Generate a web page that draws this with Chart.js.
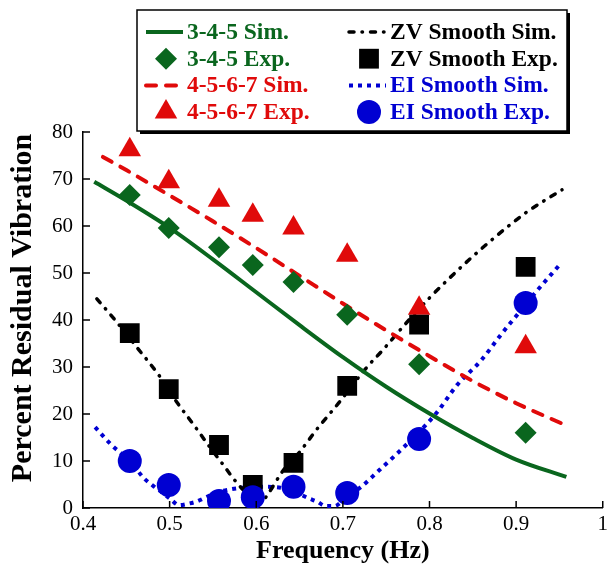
<!DOCTYPE html>
<html>
<head>
<meta charset="utf-8">
<script src="https://cdn.jsdelivr.net/npm/chart.js@4.4.0/dist/chart.umd.min.js"></script>
<style>
  html, body { margin: 0; padding: 0; background: #fff; }
  #wrap { width: 612px; height: 571px; }
</style>
</head>
<body>
<div id="wrap"><canvas id="vibChart" width="612" height="571"></canvas></div>
<script>
// experiment frequencies (same for every shaper)
var expFreq = [0.454, 0.499, 0.557, 0.596, 0.643, 0.705, 0.788, 0.911];

var exp345  = [66.6, 59.6, 55.5, 51.7, 48.1, 41.1, 30.6, 16.0];
var exp4567 = [76.2, 69.4, 65.5, 62.3, 59.6, 53.8, 42.5, 34.3];
var expZV   = [37.2, 25.3, 13.4, 4.9, 9.6, 26.0, 39.0, 51.3];
var expEI   = [10.0, 4.9, 1.5, 2.3, 4.5, 3.2, 14.7, 43.6];

// simulated curves
var simFreq345 = [0.413, 0.45, 0.5, 0.55, 0.6, 0.65, 0.7, 0.75, 0.8, 0.85, 0.9, 0.958];
var sim345     = [69.4, 65.4, 59.6, 52.9, 45.9, 38.9, 32.1, 25.8, 20.1, 14.9, 10.3, 6.6];

var simFreq4567 = [0.423, 0.45, 0.5, 0.55, 0.6, 0.65, 0.7, 0.75, 0.8, 0.85, 0.9, 0.955];
var sim4567     = [74.7, 71.9, 66.5, 61.0, 55.3, 49.4, 43.5, 37.8, 32.3, 27.0, 22.3, 17.8];

var simFreqZV = [0.416, 0.437, 0.463, 0.489, 0.508, 0.529, 0.545, 0.561, 0.577, 0.592, 0.604, 0.615,
                 0.63, 0.65, 0.671, 0.695, 0.727, 0.746, 0.769, 0.8, 0.823, 0.848, 0.869, 0.89, 0.911, 0.93, 0.953];
var simZV     = [44.5, 40.0, 34.0, 27.9, 22.6, 17.4, 13.3, 9.4, 5.5, 2.6, 1.0, 3.4,
                 7.7, 11.9, 17.0, 22.3, 29.8, 33.6, 38.5, 44.7, 48.9, 53.2, 56.6, 59.8, 62.8, 65.1, 67.7];

var simFreqEI = [0.414, 0.433, 0.455, 0.47, 0.481, 0.492, 0.501, 0.511, 0.521, 0.53, 0.54, 0.555, 0.571,
                 0.59, 0.612, 0.628, 0.645, 0.66, 0.671, 0.68, 0.69, 0.705, 0.721, 0.74, 0.761, 0.786,
                 0.808, 0.832, 0.86, 0.883, 0.899, 0.924, 0.95];
var simEI     = [17.2, 13.4, 9.8, 6.4, 4.7, 3.2, 1.9, 0.6, 0.9, 1.3, 2.1, 3.3, 4.0,
                 4.4, 4.5, 4.3, 3.4, 2.1, 1.3, 0.4, 0.4, 2.5, 4.5, 7.7, 11.3, 15.8,
                 20.2, 26.2, 31.5, 37.0, 40.6, 46.2, 51.7];

var GREEN = '#0a661e', RED = '#e00a0a', BLACK = '#000000', BLUE = '#0000d2';
var SERIF = "'Liberation Serif', 'Times New Roman', serif";

function pts(xs, ys) {
  return xs.map(function (x, i) { return { x: x, y: ys[i] }; });
}

function simSet(label, xs, ys, color, width, dash, cap) {
  return {
    label: label, data: pts(xs, ys), showLine: true, pointRadius: 0,
    borderColor: color, backgroundColor: color, borderWidth: width,
    borderDash: dash, borderCapStyle: cap || 'butt',
    cubicInterpolationMode: 'monotone', order: 10
  };
}

function expSet(label, ys, color, style, radius, order) {
  return {
    label: label, data: pts(expFreq, ys), showLine: false,
    pointStyle: style, pointRadius: radius, pointHoverRadius: radius,
    pointBorderWidth: 0, borderColor: color, backgroundColor: color, order: order
  };
}

// draws one marker shape for the legend box
function drawMarker(ctx, style, x, y, r) {
  ctx.beginPath();
  if (style === 'circle') {
    ctx.arc(x, y, r, 0, Math.PI * 2);
  } else if (style === 'rect') {
    var s = r * Math.SQRT1_2;
    ctx.rect(x - s, y - s, 2 * s, 2 * s);
  } else if (style === 'rectRot') {
    ctx.moveTo(x - r, y); ctx.lineTo(x, y - r); ctx.lineTo(x + r, y); ctx.lineTo(x, y + r);
  } else if (style === 'triangle') {
    ctx.moveTo(x, y - r);
    ctx.lineTo(x + r * 0.866, y + r * 0.5);
    ctx.lineTo(x - r * 0.866, y + r * 0.5);
  }
  ctx.closePath();
  ctx.fill();
}

var boxedLegend = {
  id: 'boxedLegend',
  afterDraw: function (chart) {
    var ctx = chart.ctx;
    var xs = chart.scales.x, ys = chart.scales.y;
    ctx.save();

    // inward tick marks
    ctx.strokeStyle = '#000';
    ctx.lineWidth = 1.5;
    ctx.beginPath();
    xs.ticks.forEach(function (t) {
      var px = xs.getPixelForValue(t.value);
      ctx.moveTo(px, ys.bottom); ctx.lineTo(px, ys.bottom - 7);
    });
    ys.ticks.forEach(function (t) {
      var py = ys.getPixelForValue(t.value);
      ctx.moveTo(xs.left, py); ctx.lineTo(xs.left + 7, py);
    });
    ctx.stroke();

    // y axis title
    ctx.save();
    ctx.translate(23, 308);
    ctx.rotate(-Math.PI / 2);
    ctx.fillStyle = '#000';
    ctx.font = 'bold 30px ' + SERIF;
    ctx.textAlign = 'center';
    ctx.textBaseline = 'middle';
    ctx.fillText('Percent Residual Vibration', 0, 0);
    ctx.restore();

    // legend box with shadow
    ctx.fillStyle = '#000';
    ctx.fillRect(140, 13, 430, 121);
    ctx.fillStyle = '#fff';
    ctx.fillRect(137, 10, 430, 121);
    ctx.lineWidth = 1.5;
    ctx.strokeRect(137, 10, 430, 121);

    ctx.font = 'bold 23.5px ' + SERIF;
    ctx.textBaseline = 'middle';
    chart.data.datasets.forEach(function (ds, i) {
      var x0 = i < 4 ? 144 : 347;
      var y = 32 + (i % 4) * 26.7;
      if (ds.showLine) {
        ctx.strokeStyle = ds.borderColor;
        ctx.lineWidth = ds.borderWidth;
        ctx.lineCap = ds.borderCapStyle;
        ctx.setLineDash(ds.borderDash || []);
        ctx.beginPath();
        ctx.moveTo(x0 + 2, y); ctx.lineTo(x0 + 39, y);
        ctx.stroke();
        ctx.setLineDash([]);
      } else {
        ctx.fillStyle = ds.backgroundColor;
        drawMarker(ctx, ds.pointStyle, x0 + 22, y, ds.pointRadius);
      }
      ctx.fillStyle = ds.borderColor;
      ctx.fillText(ds.label, x0 + 43, y + 1);
    });
    ctx.restore();
  }
};

var ctx = document.getElementById('vibChart').getContext('2d');
var chart = new Chart(ctx, {
  type: 'scatter',
  data: {
    datasets: [
      simSet('3-4-5 Sim.', simFreq345, sim345, GREEN, 4, []),
      expSet('3-4-5 Exp.', exp345, GREEN, 'rectRot', 11, 3),
      simSet('4-5-6-7 Sim.', simFreq4567, sim4567, RED, 4, [10, 10], 'round'),
      expSet('4-5-6-7 Exp.', exp4567, RED, 'triangle', 13, 4),
      simSet('ZV Smooth Sim.', simFreqZV, simZV, BLACK, 3.5, [5, 8, 0.5, 8], 'round'),
      expSet('ZV Smooth Exp.', expZV, BLACK, 'rect', 14, 2),
      simSet('EI Smooth Sim.', simFreqEI, simEI, BLUE, 4, [4, 5]),
      expSet('EI Smooth Exp.', expEI, BLUE, 'circle', 12, 1)
    ]
  },
  options: {
    responsive: false,
    animation: false,
    layout: { autoPadding: false, padding: { top: 132, right: 8, left: 0, bottom: 0 } },
    plugins: { legend: { display: false }, tooltip: { enabled: false } },
    scales: {
      x: {
        type: 'linear', min: 0.4, max: 1,
        ticks: {
          stepSize: 0.1, color: '#000', padding: 4, font: { family: SERIF, size: 21 },
          callback: function (v) { return String(Number(v.toFixed(1))); }
        },
        grid: { display: false, drawTicks: false },
        border: { color: '#000', width: 1.5 },
        title: { display: true, text: 'Frequency (Hz)', color: '#000', padding: { top: 4, bottom: 4 },
                 font: { family: SERIF, size: 26, weight: 'bold' } },
        afterFit: function (s) { s.height = 63; }
      },
      y: {
        min: 0, max: 80,
        ticks: { stepSize: 10, color: '#000', padding: 10, font: { family: SERIF, size: 21 } },
        grid: { display: false, drawTicks: false },
        border: { color: '#000', width: 1.5 },
        afterFit: function (s) { s.width = 83; }
      }
    }
  },
  plugins: [boxedLegend]
});
</script>
</body>
</html>
